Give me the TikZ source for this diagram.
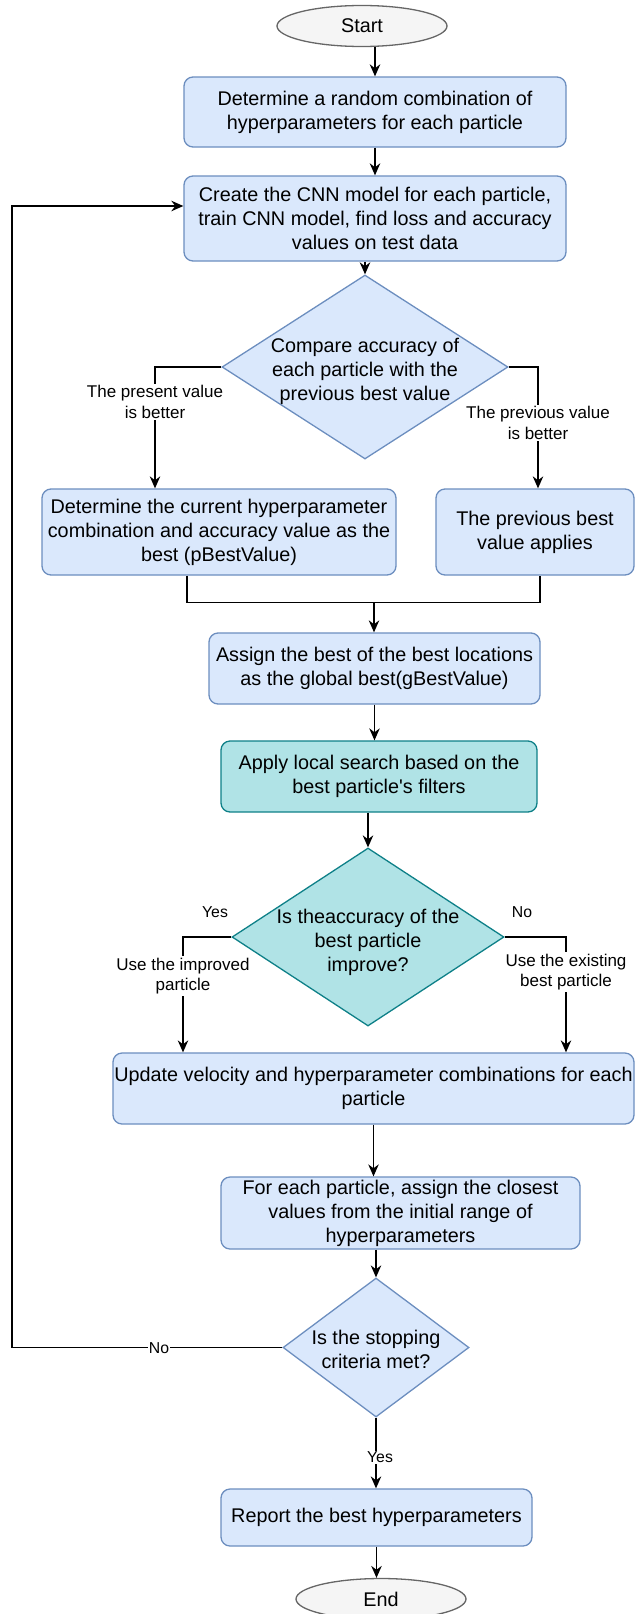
\documentclass[tikz,border=0pt]{standalone}
\usepackage{fontspec}
\setmainfont{Liberation Sans}
\usetikzlibrary{shapes.geometric,arrows.meta,calc}
\definecolor{bfill}{HTML}{DAE8FC}
\definecolor{bstroke}{HTML}{6C8EBF}
\definecolor{tfill}{HTML}{B0E3E6}
\definecolor{tstroke}{HTML}{0E8088}
\definecolor{gfill}{HTML}{F5F5F5}
\definecolor{gstroke}{HTML}{666666}
\newcommand{\nodefont}{\fontsize{19.8}{24}\selectfont}
\newcommand{\lblfont}{\fontsize{17}{20.5}\selectfont}
\newcommand{\ynfont}{\fontsize{15.8}{19}\selectfont}
\tikzset{
  box/.style={draw=bstroke, fill=bfill, rounded corners=9pt, line width=1.3pt, align=center, inner sep=0pt, font=\nodefont},
  tbox/.style={box, draw=tstroke, fill=tfill},
  term/.style={ellipse, draw=gstroke, fill=gfill, line width=1.3pt, minimum width=170pt, minimum height=41pt, inner sep=0pt, font=\nodefont},
  dia/.style={diamond, draw=bstroke, fill=bfill, line width=1.3pt, inner sep=0pt},
  tdia/.style={dia, draw=tstroke, fill=tfill},
  dtext/.style={align=center, inner sep=0pt, font=\nodefont},
  lbl/.style={fill=white, align=center, inner sep=1.5pt, font=\lblfont},
  yn/.style={align=center, inner sep=1pt, font=\ynfont},
  ynw/.style={yn, fill=white},
  arr/.style={-{Stealth[length=12pt,width=10.5pt]}, line width=1.4pt},
  ln/.style={line width=1.4pt},
}
\begin{document}
\begin{tikzpicture}[x=1pt,y=-1pt]
\useasboundingbox (0,0) rectangle (635,1614);
% nodes
\node[term] (start) at (362,26) {Start};
\node[box, minimum width=382pt, minimum height=70pt] (b1) at (375,112) {Determine a random combination of\\hyperparameters for each particle};
\node[box, minimum width=382pt, minimum height=85pt] (b2) at (375,218.5) {Create the CNN model for each particle,\\train CNN model, find loss and accuracy\\values on test data};
\node[dia, minimum width=286pt, minimum height=184pt] (d1) at (365,367) {};
\node[dtext] (d1t) at (365,371) {Compare accuracy of\\each particle with the\\previous best value};
\node[box, minimum width=354pt, minimum height=86pt] (b3) at (219,532) {Determine the current hyperparameter\\combination and accuracy value as the\\best (pBestValue)};
\node[box, minimum width=198pt, minimum height=86pt] (b4) at (535,532) {The previous best\\value applies};
\node[box, minimum width=331pt, minimum height=71pt] (b5) at (374.5,668.5) {Assign the best of the best locations\\as the global best(gBestValue)};
\node[tbox, minimum width=316pt, minimum height=71pt] (b6) at (379,776.5) {Apply local search based on the\\best particle\textquotesingle s filters};
\node[tdia, minimum width=272pt, minimum height=178pt] (d2) at (368,937) {};
\node[dtext] (d2t) at (368,942) {Is theaccuracy of the\\best particle\\improve?};
\node[box, minimum width=521pt, minimum height=71pt] (b7) at (373.5,1088.5) {Update velocity and hyperparameter combinations for each\\particle};
\node[box, minimum width=359pt, minimum height=72pt] (b8) at (400.5,1213) {For each particle, assign the closest\\values from the initial range of\\hyperparameters};
\node[dia, minimum width=186pt, minimum height=139pt] (d3) at (376,1347.5) {};
\node[dtext] (d3t) at (376,1349) {Is the stopping\\criteria met?};
\node[box, minimum width=311pt, minimum height=57pt] (b9) at (376.5,1517.5) {Report the best hyperparameters};
\node[term] (end) at (381,1599) {End};
% connectors
\draw[arr] (start.south -| b1.north) -- (b1.north);
\draw[arr] (b1.south) -- (b2.north);
\draw[arr] (b2.south -| d1.north) -- (d1.north);
\draw[arr] (d1.west) -| ([xshift=-64pt]b3.north);
\node[lbl] (l1) at (155,402) {The present value\\is better};
\draw[arr] (d1.east) -| ([xshift=3pt]b4.north);
\node[lbl] (l2) at (538,423) {The previous value\\is better};
\coordinate (m1) at (374,602);
\draw[ln] ([xshift=-32pt]b3.south) -- ++(0,27) -| ([xshift=5pt]b4.south);
\draw[arr] (m1) -- (m1 |- b5.north);
\draw[arr] (b5.south) -- (b5.south |- b6.north);
\draw[arr] (b6.south -| d2.north) -- (d2.north);
\draw[arr] (d2.west) -| ([xshift=-190.5pt]b7.north);
\draw[arr] (d2.east) -| ([xshift=192.5pt]b7.north);
\node[yn] (y1) at (215,912) {Yes};
\node[yn] (n1) at (522,912) {No};
\node[lbl] (l3) at (183,976) {Use the improved\\particle};
\node[lbl] (l4) at (566,972) {Use the existing\\best particle};
\draw[arr] (b7.south) -- (b7.south |- b8.north);
\draw[arr] (b8.south -| d3.north) -- (d3.north);
\coordinate (lp) at (12,206);
\draw[arr] (d3.west) -| (lp) -- (lp -| b2.west);
\node[ynw] (n2) at (159,1348) {No};
\draw[arr] (d3.south) -- (d3.south |- b9.north);
\node[ynw] (y2) at (380,1457) {Yes};
\draw[arr] (b9.south) -- (b9.south |- end.north);
\end{tikzpicture}
\end{document}
